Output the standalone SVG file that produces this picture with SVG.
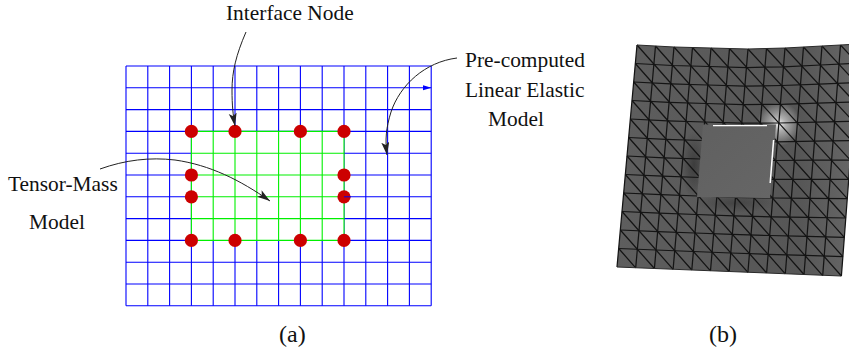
<svg xmlns="http://www.w3.org/2000/svg" width="849" height="350" viewBox="0 0 849 350">
<style>
text{font-family:"Liberation Serif","Times New Roman",serif;fill:#111;font-size:21.4px}
.b{stroke:#0000ff;stroke-width:1.1;fill:none}
.g{stroke:#00f000;stroke-width:1.1;fill:none}
.d{fill:#cc0000}
.c{stroke:#222;stroke-width:1;fill:none;marker-end:url(#ah)}
.m{stroke:#141414;stroke-width:1.25;fill:none}
</style>
<defs>
<marker id="ah" markerUnits="userSpaceOnUse" markerWidth="14" markerHeight="10" refX="13" refY="4" orient="auto"><path d="M0 0L13 4L0 8L3 4Z" fill="#222"/></marker>
<radialGradient id="glow" cx="0.5" cy="0.5" r="0.5"><stop offset="0" stop-color="#f2f2f2"/><stop offset="0.3" stop-color="#b0b0b0"/><stop offset="1" stop-color="#b0b0b0" stop-opacity="0"/></radialGradient>
<radialGradient id="dark" cx="0.5" cy="0.5" r="0.5"><stop offset="0" stop-color="#1e1e1e" stop-opacity="0.5"/><stop offset="1" stop-color="#1e1e1e" stop-opacity="0"/></radialGradient>
<linearGradient id="mesh" x1="0" y1="0" x2="1" y2="0"><stop offset="0" stop-color="#5e5e5e"/><stop offset="0.75" stop-color="#565656"/><stop offset="1" stop-color="#686868"/></linearGradient>
<linearGradient id="sq" x1="0" y1="0" x2="1" y2="1"><stop offset="0" stop-color="#606060"/><stop offset="1" stop-color="#666"/></linearGradient>
</defs>
<g id="grid-blue">
<path class="b" d="M126 66V305.8M147.8 66V305.8M169.6 66V305.8M191.4 66V305.8M213.2 66V305.8M235 66V305.8M256.8 66V305.8M278.6 66V305.8M300.4 66V305.8M322.2 66V305.8M344 66V305.8M365.8 66V305.8M387.6 66V305.8M409.4 66V305.8M431.2 66V305.8"/>
<path class="b" d="M126 66H431.2M126 87.8H431.2M126 109.6H431.2M126 131.4H431.2M126 153.2H431.2M126 175H431.2M126 196.8H431.2M126 218.6H431.2M126 240.4H431.2M126 262.2H431.2M126 284H431.2M126 305.8H431.2"/>
<path d="M423 85.3L431.5 87.8L423 90.3Z" fill="#0000ff"/>
</g>
<g id="grid-green">
<rect x="191.4" y="131.4" width="152.6" height="109" fill="#fff"/>
<path class="g" d="M191.4 131.4V240.4M213.2 131.4V240.4M235 131.4V240.4M256.8 131.4V240.4M278.6 131.4V240.4M300.4 131.4V240.4M322.2 131.4V240.4M344 131.4V240.4"/>
<path class="g" d="M191.4 131.4H344M191.4 153.2H344M191.4 175H344M191.4 196.8H344M191.4 218.6H344M191.4 240.4H344"/>
</g>
<g id="interface-nodes">
<circle class="d" cx="191.4" cy="131.4" r="6.6"/><circle class="d" cx="235" cy="131.4" r="6.6"/><circle class="d" cx="300.4" cy="131.4" r="6.6"/><circle class="d" cx="344" cy="131.4" r="6.6"/>
<circle class="d" cx="191.4" cy="175" r="6.6"/><circle class="d" cx="344" cy="175" r="6.6"/>
<circle class="d" cx="191.4" cy="196.8" r="6.6"/><circle class="d" cx="344" cy="196.8" r="6.6"/>
<circle class="d" cx="191.4" cy="240.4" r="6.6"/><circle class="d" cx="235" cy="240.4" r="6.6"/><circle class="d" cx="300.4" cy="240.4" r="6.6"/><circle class="d" cx="344" cy="240.4" r="6.6"/>
<path d="M344 196.8H351" stroke="#0000f0" stroke-width="1"/>
</g>
<g id="connectors">
<path class="c" d="M246 32C236 55 232 72 232 90C232 105 233 115 235 126"/>
<path class="c" d="M457 58C425 62 400 85 391 112C386 128 385 140 387 155"/>
<path class="c" d="M100 169C125 160 150 157 175 160C210 165 240 180 270 201"/>
</g>
<g id="labels">
<text x="226" y="20">Interface Node</text>
<text x="465" y="67">Pre-computed</text>
<text x="465" y="97">Linear Elastic</text>
<text x="488" y="126">Model</text>
<text x="8" y="191">Tensor-Mass</text>
<text x="29" y="229">Model</text>
<text x="279" y="342" style="font-size:24px">(a)</text>
<text x="709" y="342" style="font-size:24px">(b)</text>
</g>
<g id="mesh-surface">
<path d="M637 45L674 47L711 48L748 49L785 48L822 46L859 44L841.4 276L804 274.5L766.6 273L729.2 271.5L691.8 270L654.4 268.5L617 267Z" fill="url(#mesh)"/>
<ellipse cx="779" cy="124" rx="22" ry="22" fill="url(#glow)"/>
<ellipse cx="694" cy="165" rx="13" ry="34" fill="url(#dark)"/>
<ellipse cx="735" cy="203" rx="40" ry="10" fill="url(#dark)" opacity="0.7"/>
<path class="m" d="M635.3 63.5L672.4 65.5L709.4 66.5L746.4 67.5L783.5 66.8L820.5 65L857.5 63.3M633.7 82L670.7 83.9L707.8 85L744.9 86.1L781.9 85.5L819 84.1L856.1 82.7M632 100.5L669.1 102.4L706.2 103.5L743.3 104.6L780.4 104.3L817.5 103.1L854.6 102M630.3 119L667.5 120.8L704.6 122L741.7 123.2L778.9 123L816 122.2L853.1 121.3M628.7 137.5L665.8 139.3L703 140.5L740.2 141.7L777.3 141.8L814.5 141.2L851.7 140.7M627 156L664.2 157.8L701.4 159L738.6 160.2L775.8 160.5L813 160.2L850.2 160M625.3 174.5L662.6 176.2L699.8 177.5L737 178.8L774.3 179.3L811.5 179.3L848.7 179.3M623.7 193L660.9 194.7L698.2 196L735.5 197.3L772.7 198L810 198.3L847.3 198.7M622 211.5L659.3 213.1L696.6 214.5L733.9 215.9L771.2 216.8L808.5 217.4L845.8 218M620.3 230L657.7 231.6L695 233L732.3 234.4L769.7 235.5L807 236.4L844.3 237.3M618.7 248.5L656 250L693.4 251.5L730.8 253L768.1 254.3L805.5 255.4L842.9 256.7"/>
<path class="m" d="M637 45L617 267M655.5 46L635.7 267.8M674 47L654.4 268.5M692.5 47.5L673.1 269.3M711 48L691.8 270M729.5 48.5L710.5 270.8M748 49L729.2 271.5M766.5 48.5L747.9 272.3M785 48L766.6 273M803.5 47L785.3 273.8M822 46L804 274.5M840.5 45L822.7 275.6M859 44L841.4 276"/>
<path class="m" d="M637 45L841.4 276M655.5 46L842.9 256.7M674 47L844.3 237.3M692.5 47.5L845.8 218M711 48L847.3 198.7M729.5 48.5L848.7 179.3M748 49L850.2 160M766.5 48.5L851.7 140.7M785 48L853.1 121.3M803.5 47L854.6 102M822 46L856.1 82.7M840.5 45L857.5 63.3M635.3 63.5L822.7 275.6M633.7 82L804 274.5M632 100.5L785.3 273.8M630.3 119L766.6 273M628.7 137.5L747.9 272.3M627 156L729.2 271.5M625.3 174.5L710.5 270.8M623.7 193L691.8 270M622 211.5L673.1 269.3M620.3 230L654.4 268.5M618.7 248.5L635.7 267.8"/>
<path d="M637 45L674 47L711 48L748 49L785 48L822 46L859 44M617 267L654.4 268.5L691.8 270L729.2 271.5L766.6 273L804 274.5L841.4 276" fill="none" stroke="#2a2a2a" stroke-width="1"/>
<path d="M703 124.5L776 124.5L770 198L697 197Z" fill="url(#sq)"/>
<path d="M713 125.6H767" stroke="#fff" stroke-width="1.4"/>
<path d="M773.6 140L770.2 183" stroke="#fff" stroke-width="1.5"/>
</g>
</svg>
